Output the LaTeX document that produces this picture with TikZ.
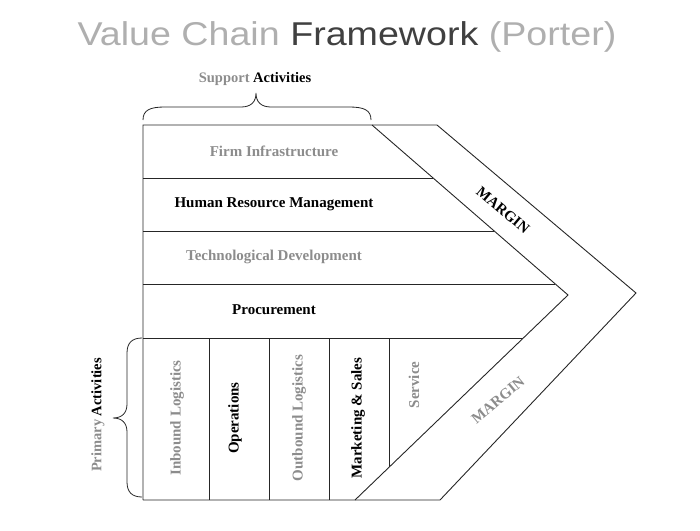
\documentclass[tikz,border=0pt]{standalone}
\usepackage{fontspec}
\setmainfont{Liberation Serif}
\newfontfamily\titlefont{Liberation Sans}
\definecolor{blurgray}{gray}{0.55}
\definecolor{titlegray}{gray}{0.25}
\begin{document}
\begin{tikzpicture}[x=1pt,y=-1pt,
  edge/.style={draw=black!85,line width=0.9pt,line join=miter},
  lbl/.style={font=\fontsize{15}{17}\selectfont\bfseries,inner sep=0pt},
  blur/.style={lbl,text=blurgray},
  vlbl/.style={lbl,rotate=90},
  vblur/.style={blur,rotate=90}]
\useasboundingbox (0,0) rectangle (700,530);
% key points
\coordinate (TL) at (143,125);
\coordinate (TI) at (372,125);
\coordinate (TO) at (437,125);
\coordinate (TipI) at (568,295);
\coordinate (TipO) at (636,293);
\coordinate (BI) at (355,500);
\coordinate (BO) at (440,500);
\coordinate (BL) at (143,500);
% outline
\draw[edge] (BL) -- (TL) -- (TO) -- (TipO) -- (BO) -- (BL);
\draw[edge] (TI) -- (TipI) -- (BI);
% row lines
\coordinate (r1) at (143,178); \coordinate (r1e) at (433,178);
\coordinate (r2) at (143,231); \coordinate (r2e) at (494,231);
\coordinate (r3) at (143,284); \coordinate (r3e) at (555,284);
\coordinate (r4) at (143,338); \coordinate (r4e) at (523,338);
\draw[edge] (r1) -- (r1e);
\draw[edge] (r2) -- (r2e);
\draw[edge] (r3) -- (r3e);
\draw[edge] (r4) -- (r4e);
% column lines
\coordinate (c1t) at (209,338); \coordinate (c1b) at (209,500);
\coordinate (c2t) at (269,338); \coordinate (c2b) at (269,500);
\coordinate (c3t) at (329,338); \coordinate (c3b) at (329,500);
\coordinate (c4t) at (389,338); \coordinate (c4b) at (389,467);
\draw[edge] (c1t) -- (c1b);
\draw[edge] (c2t) -- (c2b);
\draw[edge] (c3t) -- (c3b);
\draw[edge] (c4t) -- (c4b);
% braces
\coordinate (bt1) at (143,120); \coordinate (bt2) at (371,120); \coordinate (btip) at (256,93);
\draw[edge,line width=0.8pt] (bt1) .. controls (143,110) and (150,107) .. (165,107) -- (241,107)
  .. controls (251,107) and (256,102) .. (btip) .. controls (256,102) and (261,107) .. (271,107)
  -- (349,107) .. controls (364,107) and (371,110) .. (bt2);
\coordinate (bl1) at (142,338); \coordinate (bl2) at (142,497); \coordinate (bltip) at (113,418);
\draw[edge,line width=0.8pt] (bl1) .. controls (132,338) and (127,343) .. (127,353) -- (127,404)
  .. controls (127,413) and (122,418) .. (bltip) .. controls (122,418) and (127,423) .. (127,432)
  -- (127,482) .. controls (127,492) and (132,497) .. (bl2);
% title
\node[font=\titlefont\fontsize{33}{38}\selectfont,text=titlegray,anchor=base,inner sep=0pt,xscale=1.14] (title) at (347,45)
  {{\color{blurgray!70}Value Chain} Framework {\color{blurgray!70}(Porter)}};
% support label
\node[lbl,font=\fontsize{14.5}{17}\selectfont\bfseries,anchor=base] (sa) at (255,82) {{\color{blurgray}Support} Activities};
% rows
\node[blur] (fi) at (274,151) {Firm Infrastructure};
\node[lbl] (hr) at (274,204) {Human Resource Management};
\node[blur] (td) at (274,257) {Technological Development};
\node[lbl] (pr) at (274,310) {Procurement};
% primary columns
\node[vblur] (il) at (177,418) {Inbound Logistics};
\node[vlbl] (op) at (235,418) {Operations};
\node[vblur] (ol) at (299,418) {Outbound Logistics};
\node[vlbl] (ms) at (358,418) {Marketing \& Sales};
\node[vblur] (sv) at (414,385) {Service};
% margins
\node[lbl,rotate=-40] (m1) at (503,210) {MARGIN};
\node[blur,rotate=40] (m2) at (498,400) {MARGIN};
% primary activities label
\node[lbl,font=\fontsize{14.5}{17}\selectfont\bfseries,rotate=90] (pa) at (98,415) {{\color{blurgray}Primary} Activities};
\end{tikzpicture}
\end{document}
